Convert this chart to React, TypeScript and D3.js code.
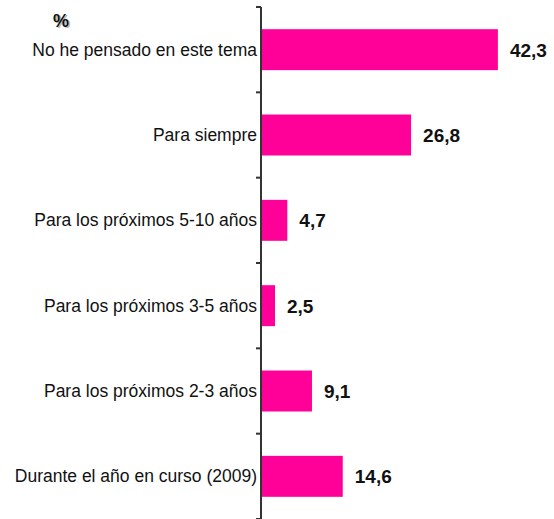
import React from "react";
import * as d3 from "d3";

const categories = [
  "No he pensado en este tema",
  "Para siempre",
  "Para los próximos 5-10 años",
  "Para los próximos 3-5 años",
  "Para los próximos 2-3 años",
  "Durante el año en curso (2009)",
];
const values = [42.3, 26.8, 4.7, 2.5, 9.1, 14.6];
const valueLabels = ["42,3", "26,8", "4,7", "2,5", "9,1", "14,6"];
const unitLabel = "%";

const W = 554;
const H = 519;
const axisX = 261;
const top = 7;
const bottom = 519;
const FONT = "'Liberation Sans', Arial, sans-serif";

export default function App() {
  const x = d3.scaleLinear().domain([0, 50]).range([axisX, axisX + 280]);
  const y = d3
    .scaleBand<string>()
    .domain(categories)
    .range([top, bottom])
    .paddingInner(0.52)
    .paddingOuter(0.26);
  const step = y.step();
  const tickYs = d3.range(categories.length + 1).map((i) => top + i * step);

  return (
    <svg
      width={W}
      height={H}
      style={{ position: "absolute", left: 0, top: 0, background: "#fff" }}
      fontFamily={FONT}
    >
      <text x={54.5} y={28} fontSize={18} fontWeight="bold" fill="#bbb">
        {unitLabel}
      </text>
      <text x={53} y={26.5} fontSize={18} fontWeight="bold" fill="#111">
        {unitLabel}
      </text>
      {categories.map((c, i) => {
        const by = y(c)!;
        const bh = y.bandwidth();
        return (
          <g key={c}>
            <rect
              x={x(0)}
              y={by}
              width={x(values[i]) - x(0)}
              height={bh}
              fill="#ff0099"
            />
            <text
              x={axisX - 4}
              y={by + bh / 2}
              dy="0.35em"
              textAnchor="end"
              fontSize={17.5}
              fill="#111"
            >
              {c}
            </text>
            <text
              x={x(values[i]) + 12}
              y={by + bh / 2}
              dy="0.36em"
              fontSize={19}
              fontWeight="bold"
              fill="#111"
            >
              {valueLabels[i]}
            </text>
          </g>
        );
      })}
      <line x1={axisX} x2={axisX} y1={top} y2={bottom} stroke="#333" strokeWidth={2} />
      {tickYs.map((t, i) => (
        <line key={i} x1={axisX - 5} x2={axisX} y1={t} y2={t} stroke="#333" strokeWidth={2} />
      ))}
    </svg>
  );
}
